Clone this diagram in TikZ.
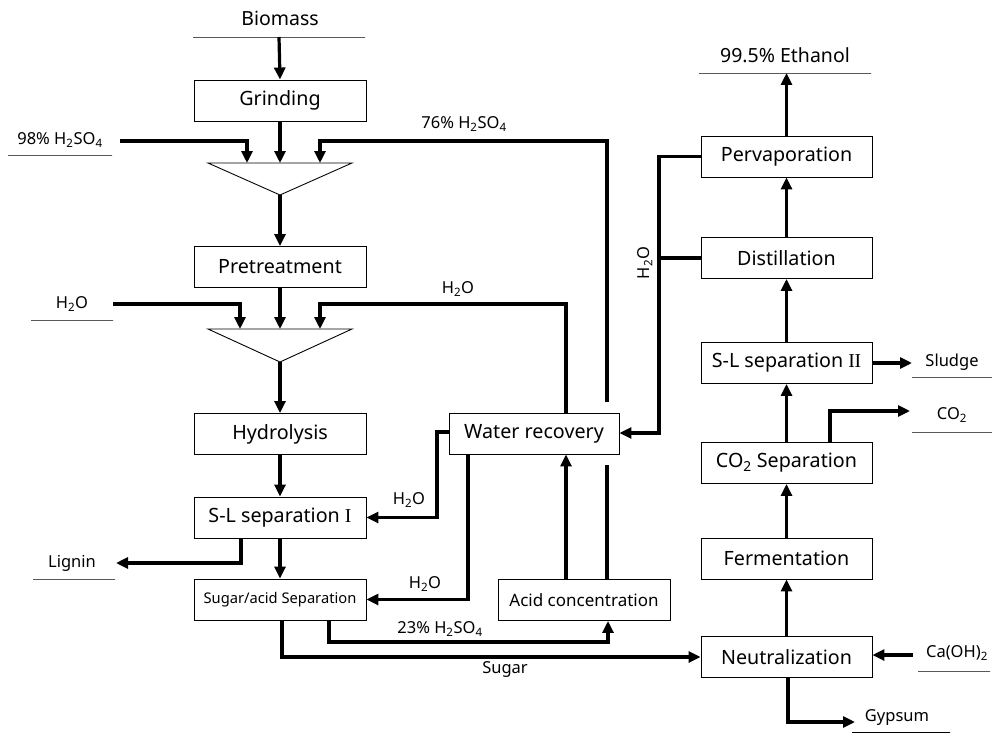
\documentclass[tikz,border=0pt]{standalone}
\usepackage{fontspec}
\setmainfont{Noto Sans}
\newfontfamily\romfont{Liberation Serif}
\usetikzlibrary{arrows.meta}
\newcommand{\hto}{H\textsubscript{2}O}
\newcommand{\hso}{H\textsubscript{2}SO\textsubscript{4}}
\newcommand{\romI}{{\romfont I}}
\newcommand{\romII}{{\romfont I\kern-0.02em I}}
\begin{document}
\begin{tikzpicture}[x=1pt,y=-1pt,
  box/.style={draw, line width=0.9pt, fill=white, minimum width=172pt, minimum height=41pt, inner sep=0pt, font=\fontsize{19.7}{21}\selectfont},
  lbl/.style={inner sep=0pt, font=\fontsize{16.5}{18}\selectfont},
  big/.style={inner sep=0pt, font=\fontsize{19.5}{21}\selectfont},
  uline/.style={draw, line width=0.8pt, minimum height=0pt, inner sep=0pt},
  flow/.style={line width=3.2pt, -{Triangle[length=12pt,width=11pt]}},
  pipe/.style={line width=3.2pt},
  mix/.style={draw, line width=0.9pt, fill=white},
]
\useasboundingbox (0,0) rectangle (992,733);

% ---------- left column boxes ----------
\node[box] (grind) at (280,100.5) {Grinding};
\node[box] (pre) at (280,267) {Pretreatment};
\node[box] (hyd) at (280,434) {Hydrolysis};
\node[box] (sl1) at (280,517.5) {S-L separation \romI};
\node[box, font=\fontsize{14.7}{16}\selectfont] (sug) at (280,599.5) {Sugar/acid Separation};
\node[box, minimum width=170pt] (water) at (534,433.5) {Water recovery};
\node[box, font=\fontsize{17}{19}\selectfont] (acid) at (584,600) {Acid concentration};

% ---------- right column boxes ----------
\node[box, minimum width=171pt] (perv) at (786.5,156.5) {Pervaporation};
\node[box, minimum width=171pt] (dist) at (786.5,258) {Distillation};
\node[box, minimum width=171pt] (sl2) at (786.5,363) {S-L separation \romII};
\node[box, minimum width=171pt] (co2s) at (786.5,463) {CO\textsubscript{2} Separation};
\node[box, minimum width=171pt] (ferm) at (786.5,558.5) {Fermentation};
\node[box, minimum width=171pt] (neut) at (786.5,657) {Neutralization};

% ---------- mixers ----------
\coordinate (m1L) at (208,163); \coordinate (m1R) at (352,163);
\coordinate (m1a) at (247,163); \coordinate (m1c) at (280,163); \coordinate (m1b) at (320,163);
\coordinate (m1t) at (280,195);
\coordinate (m2L) at (208,329); \coordinate (m2R) at (352,329);
\coordinate (m2a) at (240,329); \coordinate (m2c) at (280,329); \coordinate (m2b) at (320,329);
\coordinate (m2t) at (280,362);
\draw[mix] (m1L) -- (m1R) -- (m1t) -- cycle;
\draw[mix] (m2L) -- (m2R) -- (m2t) -- cycle;

% ---------- stream labels ----------
\node[big] (bio) at (280,18) {Biomass};
\node[uline, minimum width=172pt] (bioL) at (279,37) {};
\node[lbl] (a98) at (60,140) {98\% \hso};
\node[uline, minimum width=104pt] (a98L) at (60,155) {};
\coordinate (a98s) at (120,141);
\node[lbl] (h2ol) at (72,304) {\hto};
\node[uline, minimum width=82pt] (h2olL) at (72,320) {};
\coordinate (h2os) at (113,304);
\node[lbl] (lig) at (72,563) {Lignin};
\node[uline, minimum width=82pt] (ligL) at (74,579) {};
\coordinate (ligT) at (116,563);
\node[big] (eth) at (785,55) {99.5\% Ethanol};
\node[uline, minimum width=172pt] (ethL) at (785,73) {};
\node[lbl] (slu) at (952,362) {Sludge};
\node[uline, minimum width=80pt] (sluL) at (952,377) {};
\coordinate (sluT) at (912,363);
\node[lbl] (co2) at (952,415) {CO\textsubscript{2}};
\node[uline, minimum width=80pt] (co2L) at (952,432) {};
\coordinate (co2T) at (910,411);
\node[lbl] (ca) at (957,653) {Ca(OH)\textsubscript{2}};
\node[uline, minimum width=72pt] (caL) at (954,671) {};
\coordinate (caS) at (913,655);
\node[lbl] (gyp) at (897,717) {Gypsum};
\node[uline, minimum width=98pt] (gypL) at (901,732) {};
\coordinate (gypT) at (855,722);

% connector labels
\node[lbl] (t76) at (464,124) {76\% \hso};
\node[lbl] (th1) at (458,289) {\hto};
\node[lbl] (th2) at (409,500) {\hto};
\node[lbl] (th3) at (425,584) {\hto};
\node[lbl] (t23) at (440,629) {23\% \hso};
\node[lbl] (tsug) at (505,669) {Sugar};
\node[lbl, rotate=90] (th4) at (645,263) {\hto};

% ---------- connectors ----------
\draw[flow] (bioL.center) -- (grind.north);
\draw[flow] (grind.south) -- (m1c);
\draw[flow] (a98s) -| (m1a);
\coordinate (k402) at (607,402);
\coordinate (k465) at (607,465);
\coordinate (c76) at (320,141);
\draw[pipe] (acid.north -| k465) -- (k465);
\draw[flow] (k402) |- (c76) -- (m1b);
\draw[flow] (m1t) -- (pre.north);
\draw[flow] (pre.south) -- (m2c);
\draw[flow] (h2os) -| (m2a);
\coordinate (c304) at (320,304);
\coordinate (w566) at (566,0);
\draw[flow] (water.north -| w566) |- (c304) -- (m2b);
\draw[flow] (m2t) -- (hyd.north);
\draw[flow] (hyd.south) -- (sl1.north);
\coordinate (c437) at (437,432);
\draw[flow] (c437 -| water.west) -- (c437) |- (sl1.east);
\coordinate (w468) at (468,0);
\draw[flow] (water.south -| w468) |- (sug.east);
\draw[flow] (sl1.south) -- (sug.north);
\coordinate (x241) at (241,0);
\draw[flow] (sl1.south -| x241) |- (ligT);
\coordinate (x282) at (282,658);
\draw[flow] (sug.south -| x282) |- (neut.west);
\coordinate (x329) at (329,642);
\coordinate (x608) at (608,0);
\draw[flow] (sug.south -| x329) -- (x329) -| (acid.south -| x608);
\draw[flow] (acid.north -| w566) -- (water.south -| w566);
\coordinate (x659) at (659,433);
\draw[flow] (perv.west) -| (x659) -- (water.east |- x659);
\draw[pipe] (dist.west) -- (dist.west -| x659);
\draw[flow] (dist.north) -- (perv.south);
\draw[flow] (perv.north) -- (ethL.center -| perv.north);
\draw[flow] (sl2.north) -- (dist.south);
\draw[flow] (co2s.north) -- (sl2.south);
\draw[flow] (sl2.east) -- (sluT);
\coordinate (x830) at (830,0);
\draw[flow] (co2s.north -| x830) |- (co2T);
\draw[flow] (ferm.north) -- (co2s.south);
\draw[flow] (neut.north) -- (ferm.south);
\draw[flow] (caS) -- (neut.east |- caS);
\coordinate (x788) at (788,0);
\draw[flow] (neut.south -| x788) |- (gypT);
\end{tikzpicture}
\end{document}
